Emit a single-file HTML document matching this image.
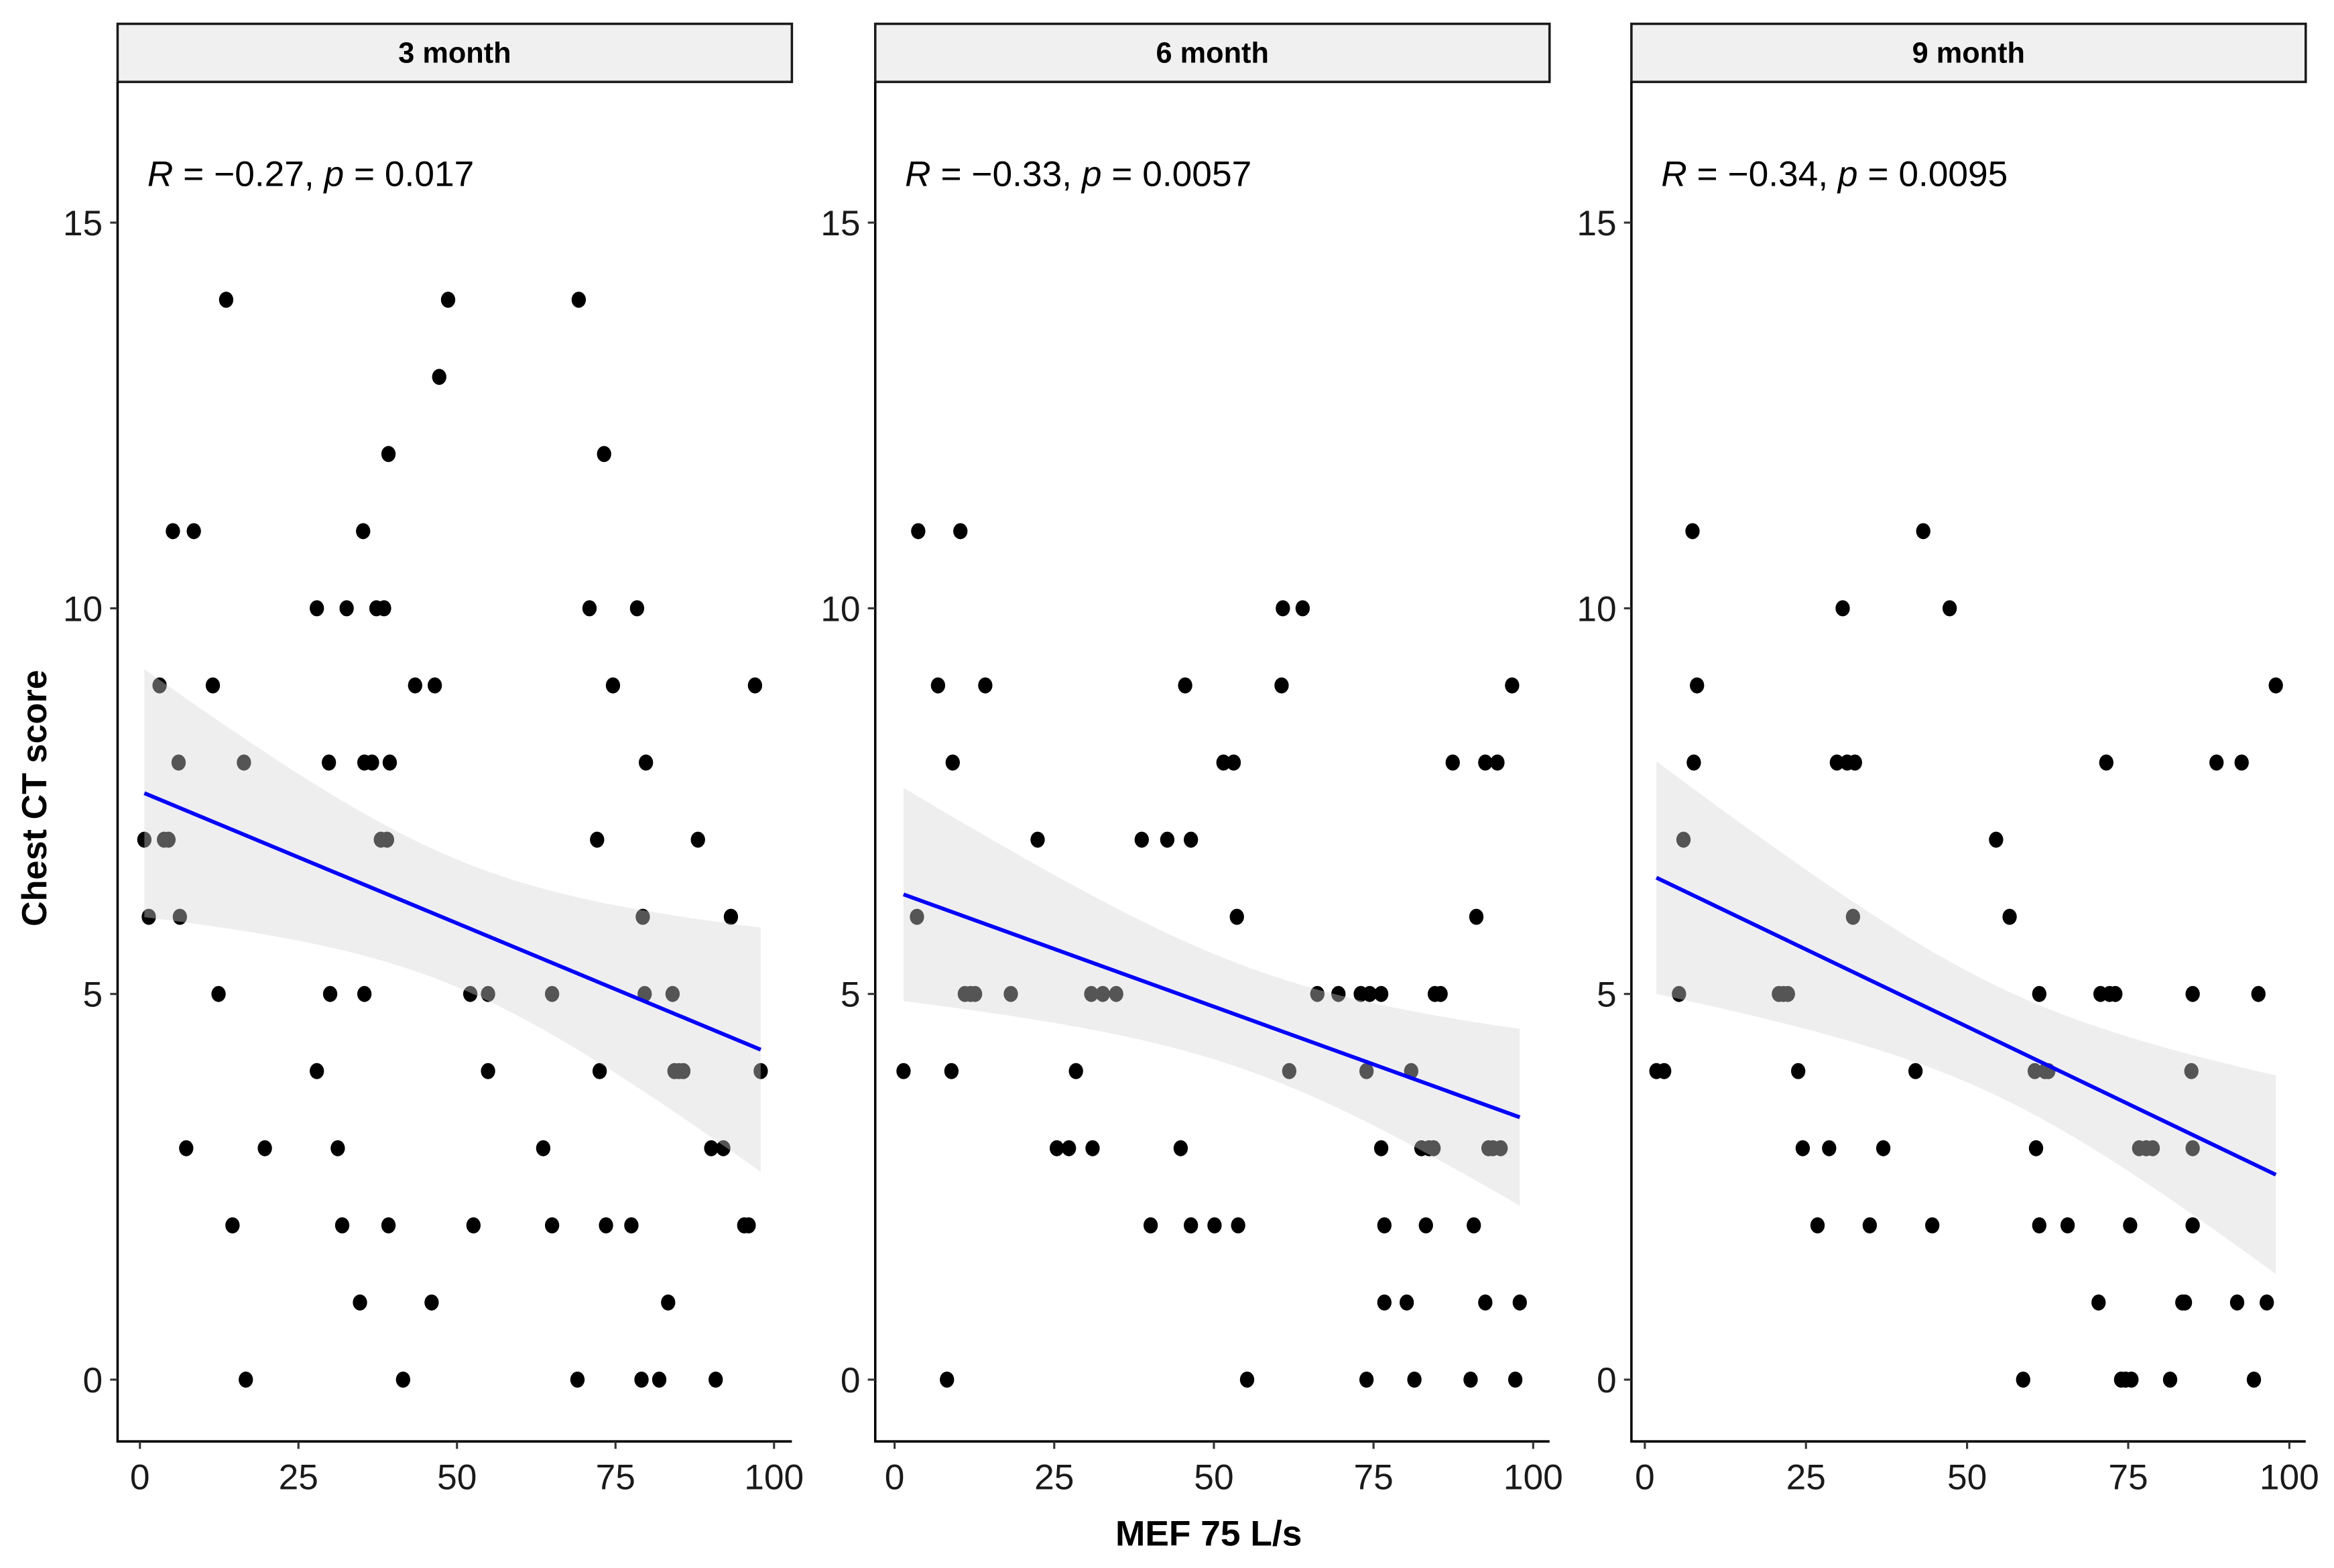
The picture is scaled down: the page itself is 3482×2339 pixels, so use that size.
<!DOCTYPE html>
<html><head><meta charset="utf-8">
<style>
html,body{margin:0;padding:0;background:#fff;}
svg{display:block;}
text{font-family:"Liberation Sans",Arial,sans-serif;}
</style></head>
<body>
<svg id="chart" width="3482" height="2339" viewBox="0 0 1568 1053" preserveAspectRatio="none" xmlns="http://www.w3.org/2000/svg">
<text transform="translate(31,536) rotate(-90)" text-anchor="middle" font-size="23.5" font-weight="bold">Chest CT score</text>
<text x="812" y="1038" text-anchor="middle" font-size="24" font-weight="bold">MEF 75 L/s</text>
</svg>
<script>
// ---- data ----
const panelTitles = ["3 month", "6 month", "9 month"];
const annotations = [["\u22120.27", "0.017"], ["\u22120.33", "0.0057"], ["\u22120.34", "0.0095"]];
const xTicks = [0, 25, 50, 75, 100];
const yTicks = [0, 5, 10, 15];

const p1x = [0.7,1.4,3.1,3.8,4.5,5.2,6.1,6.3,7.3,8.5,11.5,12.4,13.6,14.6,16.4,16.7,19.7,27.9,27.9,29.8,30.0,31.2,31.9,32.6,35.2,35.4,35.4,34.7,36.6,37.3,38.0,38.5,38.97,39.4,39.2,39.2,41.5,43.4,46.0,46.5,47.2,48.6,52.1,52.6,54.9,54.9,63.6,65.0,65.0,69.0,69.2,70.9,72.1,72.5,73.2,73.5,74.6,77.5,78.4,79.1,79.3,79.6,79.8,81.9,83.3,84.0,84.3,85.0,85.7,88.0,90.1,90.8,92.0,93.2,95.3,96.0,97.0,97.9];
const p1y = [7,6,9,7,7,11,8,6,3,11,9,5,14,2,8,0,3,10,4,8,5,3,2,10,11,8,5,1,8,10,7,10,7,8,12,2,0,9,1,9,13,14,5,2,5,4,3,5,2,0,14,10,7,4,12,2,9,2,10,0,6,5,8,0,1,5,4,4,4,7,3,0,3,6,2,2,9,4];

const p2x = [1.4,3.5,3.7,6.8,8.2,8.9,9.1,10.3,11.0,11.9,12.6,14.2,18.2,22.4,25.4,27.3,28.4,31.0,30.8,32.6,34.7,38.7,40.1,42.7,44.8,45.5,46.4,46.4,50.1,51.5,53.1,53.6,53.8,55.2,60.6,60.8,61.8,63.9,66.2,69.5,73.0,73.9,73.9,74.4,76.2,76.2,76.7,76.7,80.2,80.9,81.4,82.5,83.2,83.7,84.4,84.6,85.5,87.4,90.2,90.7,91.1,92.5,92.5,93.0,93.7,94.4,94.9,96.7,97.2,97.9];
const p2y = [4,6,11,9,0,4,8,11,5,5,5,9,5,7,3,3,4,3,5,5,5,7,2,7,3,9,2,7,2,8,8,6,2,0,9,10,4,10,5,5,5,4,0,5,5,3,2,1,1,4,0,3,2,3,3,5,5,8,0,2,6,1,8,3,3,8,3,9,0,1];

const p3x = [1.8,3.0,5.3,6.0,7.4,7.6,8.1,20.8,21.5,22.2,23.8,24.5,26.8,28.6,29.8,30.7,31.4,32.3,32.6,34.9,37.0,42.0,43.2,44.6,47.3,54.5,56.6,58.7,60.5,60.7,61.2,61.2,62.1,62.6,65.6,70.4,70.7,71.6,72.1,73.0,73.9,74.6,75.3,75.5,76.7,77.8,78.8,81.5,83.4,83.8,84.8,85.0,85.0,85.0,88.7,91.9,92.6,95.2,94.5,96.5,97.9];
const p3y = [4,4,5,7,11,8,9,5,5,5,4,3,2,3,8,10,8,6,8,2,3,4,11,2,10,7,6,0,4,3,5,2,4,4,2,1,5,8,5,5,0,0,2,0,3,3,3,0,1,1,4,5,3,2,8,1,8,5,0,1,9];

const panelXs = [p1x, p2x, p3x];
const panelYs = [p1y, p2y, p3y];

// ---- layout ----
const panelLeft = [79, 588, 1096];
const panelRight = [532, 1041, 1549];
const xZero = [94, 601, 1105];
const xUnit = [4.26, 4.29, 4.33];
const plotTop = 55, plotBottom = 968, stripTop = 16;
function xScale(i, v){ return xZero[i] + v * xUnit[i]; }
function yScale(v){ return 926.5 - v * 51.8; }

const NS = "http://www.w3.org/2000/svg";
const svg = document.getElementById('chart');
function mk(tag, attrs, parent){
  const e = document.createElementNS(NS, tag);
  for (const k in attrs) e.setAttribute(k, attrs[k]);
  (parent || svg).appendChild(e);
  return e;
}

for (let i = 0; i < 3; i++) {
  const g = mk('g', {});
  
  
  const L = panelLeft[i], R = panelRight[i];

  // strip
  const strip = mk('rect', {x: L, y: stripTop, width: R - L, height: plotTop - stripTop, fill: '#f0f0f0', stroke: '#1a1a1a', 'stroke-width': 1.6}, g);
  
  
  const st = mk('text', {x: (L + R) / 2, y: 42, 'text-anchor': 'middle', 'font-size': 19.5, 'font-weight': 'bold'}, g);
  st.textContent = panelTitles[i];
  
  

  // points
  const xs = panelXs[i], ys = panelYs[i];
  for (let j = 0; j < xs.length; j++) {
    const c = mk('ellipse', {cx: xScale(i, xs[j]), cy: yScale(ys[j]), rx: 4.8, ry: 5.4, fill: '#000'}, g);
    
    
  }

  // regression
  const n = xs.length;
  let mx = 0, my = 0;
  for (let j = 0; j < n; j++) { mx += xs[j]; my += ys[j]; }
  mx /= n; my /= n;
  let sxx = 0, sxy = 0;
  for (let j = 0; j < n; j++) { sxx += (xs[j] - mx) ** 2; sxy += (xs[j] - mx) * (ys[j] - my); }
  const b = sxy / sxx, a = my - b * mx;
  let sse = 0;
  for (let j = 0; j < n; j++) sse += (ys[j] - a - b * xs[j]) ** 2;
  const s = Math.sqrt(sse / (n - 2)), t = 1.995;
  const x0 = Math.min(...xs), x1 = Math.max(...xs);
  const up = [], lo = [];
  for (let k = 0; k <= 80; k++) {
    const xv = x0 + (x1 - x0) * k / 80;
    const yv = a + b * xv;
    const se = s * Math.sqrt(1 / n + (xv - mx) ** 2 / sxx);
    up.push(xScale(i, xv).toFixed(2) + ',' + yScale(yv + t * se).toFixed(2));
    lo.unshift(xScale(i, xv).toFixed(2) + ',' + yScale(yv - t * se).toFixed(2));
  }
  const rib = mk('polygon', {points: up.concat(lo).join(' '), fill: '#d4d4d4', 'fill-opacity': 0.4}, g);
  
  
  const ln = mk('line', {x1: xScale(i, x0), y1: yScale(a + b * x0), x2: xScale(i, x1), y2: yScale(a + b * x1), stroke: '#0000ff', 'stroke-width': 2.6}, g);
  
  

  // axes
  const ya = mk('line', {x1: L, y1: plotTop, x2: L, y2: plotBottom + 0.8, stroke: '#000', 'stroke-width': 1.6}, g);
  
  
  const xa = mk('line', {x1: L, y1: plotBottom, x2: R, y2: plotBottom, stroke: '#000', 'stroke-width': 1.6}, g);
  
  

  for (const v of yTicks) {
    const y = yScale(v);
    mk('line', {x1: L - 5, y1: y, x2: L, y2: y, stroke: '#333', 'stroke-width': 1.4}, g);
    const tl = mk('text', {x: L - 10, y: y + 8.5, 'text-anchor': 'end', 'font-size': 24, fill: '#1a1a1a'}, g);
    tl.textContent = v;
    
    
  }
  for (const v of xTicks) {
    const x = xScale(i, v);
    mk('line', {x1: x, y1: plotBottom, x2: x, y2: plotBottom + 5, stroke: '#333', 'stroke-width': 1.4}, g);
    const tl = mk('text', {x: x, y: 1000, 'text-anchor': 'middle', 'font-size': 24, fill: '#1a1a1a'}, g);
    tl.textContent = v;
    
    
  }

  // annotation
  const an = mk('text', {x: L + 20, y: 125, 'font-size': 24, fill: '#000'}, g);
  
  
  const r1 = mk('tspan', {'font-style': 'italic'}, an); r1.textContent = 'R';
  const r2 = mk('tspan', {}, an); r2.textContent = ' = ' + annotations[i][0] + ', ';
  const r3 = mk('tspan', {'font-style': 'italic'}, an); r3.textContent = 'p';
  const r4 = mk('tspan', {}, an); r4.textContent = ' = ' + annotations[i][1];
}
</script>
</body></html>
